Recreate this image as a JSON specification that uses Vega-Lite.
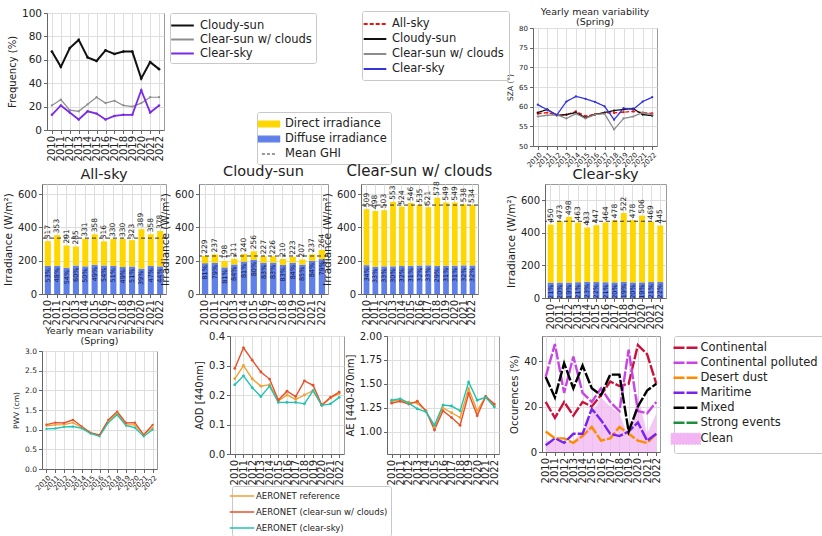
{
"$schema": "https://vega.github.io/schema/vega-lite/v6.json",
"padding": {"left": 2, "top": 6, "right": 0, "bottom": 0},
"background": "white",
"datasets": {
"freq": [
{"year":2010,"type":"Cloudy-sun","value":67},{"year":2011,"type":"Cloudy-sun","value":54},{"year":2012,"type":"Cloudy-sun","value":70},{"year":2013,"type":"Cloudy-sun","value":77},{"year":2014,"type":"Cloudy-sun","value":62},{"year":2015,"type":"Cloudy-sun","value":59},{"year":2016,"type":"Cloudy-sun","value":68},{"year":2017,"type":"Cloudy-sun","value":65},{"year":2018,"type":"Cloudy-sun","value":67},{"year":2019,"type":"Cloudy-sun","value":67},{"year":2020,"type":"Cloudy-sun","value":44},{"year":2021,"type":"Cloudy-sun","value":58},{"year":2022,"type":"Cloudy-sun","value":52},
{"year":2010,"type":"Clear-sun w/ clouds","value":21},{"year":2011,"type":"Clear-sun w/ clouds","value":26},{"year":2012,"type":"Clear-sun w/ clouds","value":17},{"year":2013,"type":"Clear-sun w/ clouds","value":16},{"year":2014,"type":"Clear-sun w/ clouds","value":22},{"year":2015,"type":"Clear-sun w/ clouds","value":28},{"year":2016,"type":"Clear-sun w/ clouds","value":23},{"year":2017,"type":"Clear-sun w/ clouds","value":25},{"year":2018,"type":"Clear-sun w/ clouds","value":21},{"year":2019,"type":"Clear-sun w/ clouds","value":20},{"year":2020,"type":"Clear-sun w/ clouds","value":23},{"year":2021,"type":"Clear-sun w/ clouds","value":28},{"year":2022,"type":"Clear-sun w/ clouds","value":28},
{"year":2010,"type":"Clear-sky","value":13},{"year":2011,"type":"Clear-sky","value":21},{"year":2012,"type":"Clear-sky","value":15},{"year":2013,"type":"Clear-sky","value":9},{"year":2014,"type":"Clear-sky","value":16},{"year":2015,"type":"Clear-sky","value":14},{"year":2016,"type":"Clear-sky","value":9},{"year":2017,"type":"Clear-sky","value":12},{"year":2018,"type":"Clear-sky","value":13},{"year":2019,"type":"Clear-sky","value":13},{"year":2020,"type":"Clear-sky","value":34},{"year":2021,"type":"Clear-sky","value":15},{"year":2022,"type":"Clear-sky","value":21}
],
"sza": [
{"year":2010,"type":"All-sky","value":58.2},{"year":2011,"type":"All-sky","value":58.5},{"year":2012,"type":"All-sky","value":57.8},{"year":2013,"type":"All-sky","value":57.9},{"year":2014,"type":"All-sky","value":58.8},{"year":2015,"type":"All-sky","value":57.6},{"year":2016,"type":"All-sky","value":58.1},{"year":2017,"type":"All-sky","value":58.4},{"year":2018,"type":"All-sky","value":58.4},{"year":2019,"type":"All-sky","value":58.6},{"year":2020,"type":"All-sky","value":58.8},{"year":2021,"type":"All-sky","value":58.5},{"year":2022,"type":"All-sky","value":58.3},
{"year":2010,"type":"Cloudy-sun","value":58.5},{"year":2011,"type":"Cloudy-sun","value":59.3},{"year":2012,"type":"Cloudy-sun","value":57.8},{"year":2013,"type":"Cloudy-sun","value":58.0},{"year":2014,"type":"Cloudy-sun","value":58.5},{"year":2015,"type":"Cloudy-sun","value":57.2},{"year":2016,"type":"Cloudy-sun","value":58.0},{"year":2017,"type":"Cloudy-sun","value":58.5},{"year":2018,"type":"Cloudy-sun","value":59.0},{"year":2019,"type":"Cloudy-sun","value":59.3},{"year":2020,"type":"Cloudy-sun","value":59.5},{"year":2021,"type":"Cloudy-sun","value":58.0},{"year":2022,"type":"Cloudy-sun","value":57.7},
{"year":2010,"type":"Clear-sun w/ clouds","value":57.5},{"year":2011,"type":"Clear-sun w/ clouds","value":57.8},{"year":2012,"type":"Clear-sun w/ clouds","value":57.9},{"year":2013,"type":"Clear-sun w/ clouds","value":57.0},{"year":2014,"type":"Clear-sun w/ clouds","value":58.2},{"year":2015,"type":"Clear-sun w/ clouds","value":57.0},{"year":2016,"type":"Clear-sun w/ clouds","value":58.0},{"year":2017,"type":"Clear-sun w/ clouds","value":58.2},{"year":2018,"type":"Clear-sun w/ clouds","value":54.2},{"year":2019,"type":"Clear-sun w/ clouds","value":57.0},{"year":2020,"type":"Clear-sun w/ clouds","value":57.5},{"year":2021,"type":"Clear-sun w/ clouds","value":58.5},{"year":2022,"type":"Clear-sun w/ clouds","value":58.0},
{"year":2010,"type":"Clear-sky","value":60.5},{"year":2011,"type":"Clear-sky","value":59.2},{"year":2012,"type":"Clear-sky","value":57.9},{"year":2013,"type":"Clear-sky","value":61.3},{"year":2014,"type":"Clear-sky","value":62.6},{"year":2015,"type":"Clear-sky","value":62.0},{"year":2016,"type":"Clear-sky","value":61.2},{"year":2017,"type":"Clear-sky","value":60.1},{"year":2018,"type":"Clear-sky","value":56.7},{"year":2019,"type":"Clear-sky","value":59.6},{"year":2020,"type":"Clear-sky","value":59.3},{"year":2021,"type":"Clear-sky","value":61.3},{"year":2022,"type":"Clear-sky","value":62.4}
],
"irr": [
{"sky":"All-sky","year":2010,"total":317,"diffuse":168,"pct":"53%"},{"sky":"All-sky","year":2011,"total":353,"diffuse":169,"pct":"48%"},{"sky":"All-sky","year":2012,"total":291,"diffuse":157,"pct":"54%"},{"sky":"All-sky","year":2013,"total":285,"diffuse":171,"pct":"60%"},{"sky":"All-sky","year":2014,"total":331,"diffuse":166,"pct":"50%"},{"sky":"All-sky","year":2015,"total":358,"diffuse":175,"pct":"49%"},{"sky":"All-sky","year":2016,"total":316,"diffuse":171,"pct":"54%"},{"sky":"All-sky","year":2017,"total":330,"diffuse":168,"pct":"51%"},{"sky":"All-sky","year":2018,"total":330,"diffuse":162,"pct":"49%"},{"sky":"All-sky","year":2019,"total":323,"diffuse":165,"pct":"51%"},{"sky":"All-sky","year":2020,"total":389,"diffuse":152,"pct":"39%"},{"sky":"All-sky","year":2021,"total":358,"diffuse":168,"pct":"47%"},{"sky":"All-sky","year":2022,"total":378,"diffuse":166,"pct":"44%"},
{"sky":"Cloudy-sun","year":2010,"total":229,"diffuse":185,"pct":"81%"},{"sky":"Cloudy-sun","year":2011,"total":237,"diffuse":187,"pct":"79%"},{"sky":"Cloudy-sun","year":2012,"total":198,"diffuse":160,"pct":"81%"},{"sky":"Cloudy-sun","year":2013,"total":211,"diffuse":177,"pct":"84%"},{"sky":"Cloudy-sun","year":2014,"total":240,"diffuse":194,"pct":"81%"},{"sky":"Cloudy-sun","year":2015,"total":256,"diffuse":205,"pct":"80%"},{"sky":"Cloudy-sun","year":2016,"total":227,"diffuse":188,"pct":"83%"},{"sky":"Cloudy-sun","year":2017,"total":226,"diffuse":188,"pct":"83%"},{"sky":"Cloudy-sun","year":2018,"total":210,"diffuse":174,"pct":"83%"},{"sky":"Cloudy-sun","year":2019,"total":223,"diffuse":187,"pct":"84%"},{"sky":"Cloudy-sun","year":2020,"total":207,"diffuse":176,"pct":"85%"},{"sky":"Cloudy-sun","year":2021,"total":237,"diffuse":199,"pct":"84%"},{"sky":"Cloudy-sun","year":2022,"total":264,"diffuse":209,"pct":"79%"},
{"sky":"Clear-sun w/ clouds","year":2010,"total":509,"diffuse":173,"pct":"34%"},{"sky":"Clear-sun w/ clouds","year":2011,"total":498,"diffuse":164,"pct":"33%"},{"sky":"Clear-sun w/ clouds","year":2012,"total":503,"diffuse":166,"pct":"33%"},{"sky":"Clear-sun w/ clouds","year":2013,"total":553,"diffuse":166,"pct":"30%"},{"sky":"Clear-sun w/ clouds","year":2014,"total":524,"diffuse":168,"pct":"32%"},{"sky":"Clear-sun w/ clouds","year":2015,"total":546,"diffuse":169,"pct":"31%"},{"sky":"Clear-sun w/ clouds","year":2016,"total":535,"diffuse":171,"pct":"32%"},{"sky":"Clear-sun w/ clouds","year":2017,"total":521,"diffuse":172,"pct":"33%"},{"sky":"Clear-sun w/ clouds","year":2018,"total":578,"diffuse":168,"pct":"29%"},{"sky":"Clear-sun w/ clouds","year":2019,"total":549,"diffuse":170,"pct":"31%"},{"sky":"Clear-sun w/ clouds","year":2020,"total":549,"diffuse":170,"pct":"31%"},{"sky":"Clear-sun w/ clouds","year":2021,"total":538,"diffuse":172,"pct":"32%"},{"sky":"Clear-sun w/ clouds","year":2022,"total":534,"diffuse":171,"pct":"32%"},
{"sky":"Clear-sky","year":2010,"total":450,"diffuse":95,"pct":"21%"},{"sky":"Clear-sky","year":2011,"total":473,"diffuse":95,"pct":"20%"},{"sky":"Clear-sky","year":2012,"total":498,"diffuse":95,"pct":"19%"},{"sky":"Clear-sky","year":2013,"total":463,"diffuse":97,"pct":"21%"},{"sky":"Clear-sky","year":2014,"total":433,"diffuse":100,"pct":"23%"},{"sky":"Clear-sky","year":2015,"total":447,"diffuse":98,"pct":"22%"},{"sky":"Clear-sky","year":2016,"total":464,"diffuse":97,"pct":"21%"},{"sky":"Clear-sky","year":2017,"total":478,"diffuse":96,"pct":"20%"},{"sky":"Clear-sky","year":2018,"total":522,"diffuse":99,"pct":"19%"},{"sky":"Clear-sky","year":2019,"total":478,"diffuse":96,"pct":"20%"},{"sky":"Clear-sky","year":2020,"total":506,"diffuse":96,"pct":"19%"},{"sky":"Clear-sky","year":2021,"total":469,"diffuse":98,"pct":"21%"},{"sky":"Clear-sky","year":2022,"total":445,"diffuse":98,"pct":"22%"}
],
"aer": [
{"var":"PWV","src":"AERONET reference","year":2010,"value":1.10},{"var":"PWV","src":"AERONET reference","year":2011,"value":1.12},{"var":"PWV","src":"AERONET reference","year":2012,"value":1.13},{"var":"PWV","src":"AERONET reference","year":2013,"value":1.18},{"var":"PWV","src":"AERONET reference","year":2014,"value":1.05},{"var":"PWV","src":"AERONET reference","year":2015,"value":0.92},{"var":"PWV","src":"AERONET reference","year":2016,"value":0.85},{"var":"PWV","src":"AERONET reference","year":2017,"value":1.22},{"var":"PWV","src":"AERONET reference","year":2018,"value":1.42},{"var":"PWV","src":"AERONET reference","year":2019,"value":1.12},{"var":"PWV","src":"AERONET reference","year":2020,"value":1.12},{"var":"PWV","src":"AERONET reference","year":2021,"value":0.88},{"var":"PWV","src":"AERONET reference","year":2022,"value":1.05},
{"var":"PWV","src":"AERONET (clear-sun w/ clouds)","year":2010,"value":1.13},{"var":"PWV","src":"AERONET (clear-sun w/ clouds)","year":2011,"value":1.18},{"var":"PWV","src":"AERONET (clear-sun w/ clouds)","year":2012,"value":1.17},{"var":"PWV","src":"AERONET (clear-sun w/ clouds)","year":2013,"value":1.25},{"var":"PWV","src":"AERONET (clear-sun w/ clouds)","year":2014,"value":1.08},{"var":"PWV","src":"AERONET (clear-sun w/ clouds)","year":2015,"value":0.92},{"var":"PWV","src":"AERONET (clear-sun w/ clouds)","year":2016,"value":0.87},{"var":"PWV","src":"AERONET (clear-sun w/ clouds)","year":2017,"value":1.25},{"var":"PWV","src":"AERONET (clear-sun w/ clouds)","year":2018,"value":1.46},{"var":"PWV","src":"AERONET (clear-sun w/ clouds)","year":2019,"value":1.17},{"var":"PWV","src":"AERONET (clear-sun w/ clouds)","year":2020,"value":1.18},{"var":"PWV","src":"AERONET (clear-sun w/ clouds)","year":2021,"value":0.87},{"var":"PWV","src":"AERONET (clear-sun w/ clouds)","year":2022,"value":1.12},
{"var":"PWV","src":"AERONET (clear-sky)","year":2010,"value":1.02},{"var":"PWV","src":"AERONET (clear-sky)","year":2011,"value":1.03},{"var":"PWV","src":"AERONET (clear-sky)","year":2012,"value":1.07},{"var":"PWV","src":"AERONET (clear-sky)","year":2013,"value":1.08},{"var":"PWV","src":"AERONET (clear-sky)","year":2014,"value":1.03},{"var":"PWV","src":"AERONET (clear-sky)","year":2015,"value":0.90},{"var":"PWV","src":"AERONET (clear-sky)","year":2016,"value":0.83},{"var":"PWV","src":"AERONET (clear-sky)","year":2017,"value":1.18},{"var":"PWV","src":"AERONET (clear-sky)","year":2018,"value":1.38},{"var":"PWV","src":"AERONET (clear-sky)","year":2019,"value":1.10},{"var":"PWV","src":"AERONET (clear-sky)","year":2020,"value":1.05},{"var":"PWV","src":"AERONET (clear-sky)","year":2021,"value":0.83},{"var":"PWV","src":"AERONET (clear-sky)","year":2022,"value":1.00},
{"var":"AOD","src":"AERONET reference","year":2010,"value":0.255},{"var":"AOD","src":"AERONET reference","year":2011,"value":0.300},{"var":"AOD","src":"AERONET reference","year":2012,"value":0.255},{"var":"AOD","src":"AERONET reference","year":2013,"value":0.230},{"var":"AOD","src":"AERONET reference","year":2014,"value":0.235},{"var":"AOD","src":"AERONET reference","year":2015,"value":0.180},{"var":"AOD","src":"AERONET reference","year":2016,"value":0.200},{"var":"AOD","src":"AERONET reference","year":2017,"value":0.185},{"var":"AOD","src":"AERONET reference","year":2018,"value":0.200},{"var":"AOD","src":"AERONET reference","year":2019,"value":0.215},{"var":"AOD","src":"AERONET reference","year":2020,"value":0.165},{"var":"AOD","src":"AERONET reference","year":2021,"value":0.190},{"var":"AOD","src":"AERONET reference","year":2022,"value":0.205},
{"var":"AOD","src":"AERONET (clear-sun w/ clouds)","year":2010,"value":0.290},{"var":"AOD","src":"AERONET (clear-sun w/ clouds)","year":2011,"value":0.360},{"var":"AOD","src":"AERONET (clear-sun w/ clouds)","year":2012,"value":0.318},{"var":"AOD","src":"AERONET (clear-sun w/ clouds)","year":2013,"value":0.278},{"var":"AOD","src":"AERONET (clear-sun w/ clouds)","year":2014,"value":0.254},{"var":"AOD","src":"AERONET (clear-sun w/ clouds)","year":2015,"value":0.183},{"var":"AOD","src":"AERONET (clear-sun w/ clouds)","year":2016,"value":0.213},{"var":"AOD","src":"AERONET (clear-sun w/ clouds)","year":2017,"value":0.195},{"var":"AOD","src":"AERONET (clear-sun w/ clouds)","year":2018,"value":0.248},{"var":"AOD","src":"AERONET (clear-sun w/ clouds)","year":2019,"value":0.233},{"var":"AOD","src":"AERONET (clear-sun w/ clouds)","year":2020,"value":0.166},{"var":"AOD","src":"AERONET (clear-sun w/ clouds)","year":2021,"value":0.192},{"var":"AOD","src":"AERONET (clear-sun w/ clouds)","year":2022,"value":0.210},
{"var":"AOD","src":"AERONET (clear-sky)","year":2010,"value":0.235},{"var":"AOD","src":"AERONET (clear-sky)","year":2011,"value":0.265},{"var":"AOD","src":"AERONET (clear-sky)","year":2012,"value":0.225},{"var":"AOD","src":"AERONET (clear-sky)","year":2013,"value":0.195},{"var":"AOD","src":"AERONET (clear-sky)","year":2014,"value":0.230},{"var":"AOD","src":"AERONET (clear-sky)","year":2015,"value":0.175},{"var":"AOD","src":"AERONET (clear-sky)","year":2016,"value":0.175},{"var":"AOD","src":"AERONET (clear-sky)","year":2017,"value":0.175},{"var":"AOD","src":"AERONET (clear-sky)","year":2018,"value":0.170},{"var":"AOD","src":"AERONET (clear-sky)","year":2019,"value":0.215},{"var":"AOD","src":"AERONET (clear-sky)","year":2020,"value":0.165},{"var":"AOD","src":"AERONET (clear-sky)","year":2021,"value":0.170},{"var":"AOD","src":"AERONET (clear-sky)","year":2022,"value":0.192},
{"var":"AE","src":"AERONET reference","year":2010,"value":1.32},{"var":"AE","src":"AERONET reference","year":2011,"value":1.33},{"var":"AE","src":"AERONET reference","year":2012,"value":1.31},{"var":"AE","src":"AERONET reference","year":2013,"value":1.30},{"var":"AE","src":"AERONET reference","year":2014,"value":1.22},{"var":"AE","src":"AERONET reference","year":2015,"value":1.05},{"var":"AE","src":"AERONET reference","year":2016,"value":1.25},{"var":"AE","src":"AERONET reference","year":2017,"value":1.20},{"var":"AE","src":"AERONET reference","year":2018,"value":1.15},{"var":"AE","src":"AERONET reference","year":2019,"value":1.45},{"var":"AE","src":"AERONET reference","year":2020,"value":1.22},{"var":"AE","src":"AERONET reference","year":2021,"value":1.37},{"var":"AE","src":"AERONET reference","year":2022,"value":1.27},
{"var":"AE","src":"AERONET (clear-sun w/ clouds)","year":2010,"value":1.30},{"var":"AE","src":"AERONET (clear-sun w/ clouds)","year":2011,"value":1.32},{"var":"AE","src":"AERONET (clear-sun w/ clouds)","year":2012,"value":1.29},{"var":"AE","src":"AERONET (clear-sun w/ clouds)","year":2013,"value":1.32},{"var":"AE","src":"AERONET (clear-sun w/ clouds)","year":2014,"value":1.22},{"var":"AE","src":"AERONET (clear-sun w/ clouds)","year":2015,"value":1.02},{"var":"AE","src":"AERONET (clear-sun w/ clouds)","year":2016,"value":1.22},{"var":"AE","src":"AERONET (clear-sun w/ clouds)","year":2017,"value":1.15},{"var":"AE","src":"AERONET (clear-sun w/ clouds)","year":2018,"value":1.07},{"var":"AE","src":"AERONET (clear-sun w/ clouds)","year":2019,"value":1.40},{"var":"AE","src":"AERONET (clear-sun w/ clouds)","year":2020,"value":1.17},{"var":"AE","src":"AERONET (clear-sun w/ clouds)","year":2021,"value":1.37},{"var":"AE","src":"AERONET (clear-sun w/ clouds)","year":2022,"value":1.29},
{"var":"AE","src":"AERONET (clear-sky)","year":2010,"value":1.33},{"var":"AE","src":"AERONET (clear-sky)","year":2011,"value":1.345},{"var":"AE","src":"AERONET (clear-sky)","year":2012,"value":1.30},{"var":"AE","src":"AERONET (clear-sky)","year":2013,"value":1.24},{"var":"AE","src":"AERONET (clear-sky)","year":2014,"value":1.21},{"var":"AE","src":"AERONET (clear-sky)","year":2015,"value":1.07},{"var":"AE","src":"AERONET (clear-sky)","year":2016,"value":1.28},{"var":"AE","src":"AERONET (clear-sky)","year":2017,"value":1.27},{"var":"AE","src":"AERONET (clear-sky)","year":2018,"value":1.22},{"var":"AE","src":"AERONET (clear-sky)","year":2019,"value":1.52},{"var":"AE","src":"AERONET (clear-sky)","year":2020,"value":1.33},{"var":"AE","src":"AERONET (clear-sky)","year":2021,"value":1.36},{"var":"AE","src":"AERONET (clear-sky)","year":2022,"value":1.26}
],
"occ": [
{"year":2010,"type":"Continental","value":22},{"year":2011,"type":"Continental","value":15},{"year":2012,"type":"Continental","value":22},{"year":2013,"type":"Continental","value":16},{"year":2014,"type":"Continental","value":22},{"year":2015,"type":"Continental","value":20},{"year":2016,"type":"Continental","value":25},{"year":2017,"type":"Continental","value":31},{"year":2018,"type":"Continental","value":29},{"year":2019,"type":"Continental","value":30},{"year":2020,"type":"Continental","value":47},{"year":2021,"type":"Continental","value":43},{"year":2022,"type":"Continental","value":30},
{"year":2010,"type":"Continental polluted","value":33},{"year":2011,"type":"Continental polluted","value":47.5},{"year":2012,"type":"Continental polluted","value":26},{"year":2013,"type":"Continental polluted","value":42},{"year":2014,"type":"Continental polluted","value":26},{"year":2015,"type":"Continental polluted","value":22},{"year":2016,"type":"Continental polluted","value":28},{"year":2017,"type":"Continental polluted","value":22},{"year":2018,"type":"Continental polluted","value":18},{"year":2019,"type":"Continental polluted","value":45},{"year":2020,"type":"Continental polluted","value":18},{"year":2021,"type":"Continental polluted","value":17},{"year":2022,"type":"Continental polluted","value":22},
{"year":2010,"type":"Desert dust","value":9},{"year":2011,"type":"Desert dust","value":6},{"year":2012,"type":"Desert dust","value":6},{"year":2013,"type":"Desert dust","value":4},{"year":2014,"type":"Desert dust","value":7},{"year":2015,"type":"Desert dust","value":11},{"year":2016,"type":"Desert dust","value":5},{"year":2017,"type":"Desert dust","value":6},{"year":2018,"type":"Desert dust","value":11},{"year":2019,"type":"Desert dust","value":8},{"year":2020,"type":"Desert dust","value":5},{"year":2021,"type":"Desert dust","value":4},{"year":2022,"type":"Desert dust","value":8},
{"year":2010,"type":"Maritime","value":3},{"year":2011,"type":"Maritime","value":6},{"year":2012,"type":"Maritime","value":4},{"year":2013,"type":"Maritime","value":8},{"year":2014,"type":"Maritime","value":8},{"year":2015,"type":"Maritime","value":19},{"year":2016,"type":"Maritime","value":14},{"year":2017,"type":"Maritime","value":8},{"year":2018,"type":"Maritime","value":7},{"year":2019,"type":"Maritime","value":9},{"year":2020,"type":"Maritime","value":13},{"year":2021,"type":"Maritime","value":5},{"year":2022,"type":"Maritime","value":8},
{"year":2010,"type":"Mixed","value":33},{"year":2011,"type":"Mixed","value":24},{"year":2012,"type":"Mixed","value":39},{"year":2013,"type":"Mixed","value":28},{"year":2014,"type":"Mixed","value":38},{"year":2015,"type":"Mixed","value":28},{"year":2016,"type":"Mixed","value":25},{"year":2017,"type":"Mixed","value":34},{"year":2018,"type":"Mixed","value":34},{"year":2019,"type":"Mixed","value":9},{"year":2020,"type":"Mixed","value":20},{"year":2021,"type":"Mixed","value":27},{"year":2022,"type":"Mixed","value":30},
{"year":2010,"type":"Clean","value":5},{"year":2011,"type":"Clean","value":5},{"year":2012,"type":"Clean","value":4},{"year":2013,"type":"Clean","value":5},{"year":2014,"type":"Clean","value":9},{"year":2015,"type":"Clean","value":17},{"year":2016,"type":"Clean","value":24},{"year":2017,"type":"Clean","value":20},{"year":2018,"type":"Clean","value":17},{"year":2019,"type":"Clean","value":6},{"year":2020,"type":"Clean","value":25},{"year":2021,"type":"Clean","value":8},{"year":2022,"type":"Clean","value":17}
]
},
"vconcat": [
{
"hconcat": [
{"width": 1, "height": 1, "data": {"values": []}, "mark": "point", "view": {"stroke": null}},
{
"width": 117, "height": 117,
"data": {"name": "freq"},
"encoding": {
"x": {"field": "year", "type": "ordinal", "scale": {"type": "point", "padding": 0.55}, "axis": {"title": null, "labelAngle": 270, "labelFontSize": 10, "labelOverlap": false, "grid": true}},
"y": {"field": "value", "type": "quantitative", "scale": {"domain": [0, 100], "nice": false}, "axis": {"title": "Frequency (%)", "values": [0, 20, 40, 60, 80, 100], "labelFontSize": 10.5, "titleFontSize": 10}},
"color": {"field": "type", "type": "nominal", "scale": {"domain": ["Cloudy-sun", "Clear-sun w/ clouds", "Clear-sky"], "range": ["#111111", "#8c8c8c", "#7a2be6"]}, "legend": {"title": null, "orient": "right", "offset": 6, "strokeColor": "#c8c8c8", "padding": 4, "labelFontSize": 11.5, "symbolType": "M-1.6,0H1.6", "symbolStrokeWidth": 2, "symbolSize": 200, "rowPadding": 0, "labelOffset": 9, "cornerRadius": 2}}
},
"layer": [
{"transform": [{"filter": "datum.type === 'Cloudy-sun'"}], "mark": {"type": "line", "strokeWidth": 2, "point": {"filled": true, "size": 7}}},
{"transform": [{"filter": "datum.type === 'Clear-sun w/ clouds'"}], "mark": {"type": "line", "strokeWidth": 1.2, "point": {"filled": true, "size": 5}}},
{"transform": [{"filter": "datum.type === 'Clear-sky'"}], "mark": {"type": "line", "strokeWidth": 1.8, "point": {"filled": true, "size": 6}}}
]
},
{"width": 361, "height": 1, "data": {"values": []}, "mark": "point", "view": {"stroke": null}},
{
"vconcat": [
{"width": 124, "height": 15, "data": {"values": []}, "mark": "point", "view": {"stroke": null}},
{
"width": 124, "height": 118,
"title": {"text": ["Yearly mean variability", "(Spring)"], "fontSize": 9.5, "offset": 2, "lineHeight": 10, "dy": 18},
"data": {"name": "sza"},
"mark": {"type": "line", "strokeWidth": 1.3, "point": {"filled": true, "size": 5}},
"encoding": {
"x": {"field": "year", "type": "ordinal", "scale": {"type": "point", "padding": 0.5}, "axis": {"title": null, "labelAngle": -45, "labelFontSize": 7, "labelOverlap": false, "grid": true, "labelPadding": 1}},
"y": {"field": "value", "type": "quantitative", "scale": {"domain": [50, 80], "nice": false, "zero": false}, "axis": {"title": "SZA (°)", "values": [50, 55, 60, 65, 70, 75, 80], "labelFontSize": 7, "titleFontSize": 7.5}},
"color": {"field": "type", "type": "nominal", "scale": {"domain": ["All-sky", "Cloudy-sun", "Clear-sun w/ clouds", "Clear-sky"], "range": ["#ee1111", "#111111", "#8c8c8c", "#3535dd"]}, "legend": {"title": null, "orient": "none", "legendX": -171, "legendY": -17, "strokeColor": "#c8c8c8", "padding": 5, "labelFontSize": 11.5, "symbolType": "M-1.6,0H1.6", "symbolStrokeWidth": 1.8, "symbolSize": 200, "rowPadding": 1, "labelOffset": 9, "cornerRadius": 2}},
"strokeDash": {"field": "type", "type": "nominal", "scale": {"domain": ["All-sky", "Cloudy-sun", "Clear-sun w/ clouds", "Clear-sky"], "range": [[4, 2], [1, 0], [1, 0], [1, 0]]}, "legend": {"title": null, "orient": "none", "legendX": -171, "legendY": -17, "strokeColor": "#c8c8c8", "padding": 5, "labelFontSize": 11.5, "symbolType": "M-1.6,0H1.6", "symbolStrokeWidth": 1.8, "symbolSize": 200, "rowPadding": 1, "labelOffset": 9, "cornerRadius": 2}}
}
}
],
"spacing": 0, "bounds": "flush",
"resolve": {"scale": {"color": "independent", "strokeDash": "independent"}}
}
],
"spacing": 4, "bounds": "flush",
"resolve": {"scale": {"color": "independent", "strokeDash": "independent"}}
},
{"width": 1, "height": 171, "data": {"values": []}, "mark": "point", "view": {"stroke": null}},
{
"hconcat": [
{
"width": 124, "height": 110,
"title": {"text": "All-sky", "fontSize": 14.5, "offset": 2},
"data": {"name": "irr"},
"transform": [{"filter": "datum.sky === 'All-sky'"}],
"layer": [
{"mark": {"type": "bar"}, "encoding": {"x": {"field": "year", "type": "ordinal", "scale": {"paddingInner": 0.35, "paddingOuter": 0.3}, "axis": {"title": null, "labelAngle": 270, "labelFontSize": 10, "labelOverlap": false, "grid": true, "bandPosition": 0.5}}, "y": {"field": "diffuse", "type": "quantitative", "scale": {"domain": [0, 660], "nice": false}, "axis": {"title": "Irradiance (W/m²)", "values": [0, 200, 400, 600], "labelFontSize": 10, "titleFontSize": 10.5}}, "color": {"datum": "Diffuse irradiance", "scale": {"domain": ["Direct irradiance", "Diffuse irradiance", "Mean GHI"], "range": ["#ffd700", "#5f80e8", "#333333"]}, "legend": null}}},
{"mark": {"type": "bar"}, "encoding": {"x": {"field": "year", "type": "ordinal"}, "y": {"field": "diffuse", "type": "quantitative", "axis": {"title": "Irradiance (W/m²)", "values": [0, 200, 400, 600], "labelFontSize": 10, "titleFontSize": 10.5}}, "y2": {"field": "total"}, "color": {"datum": "Direct irradiance", "legend": null}}},
{"mark": {"type": "text", "angle": 270, "align": "left", "baseline": "middle", "dx": 2, "fontSize": 7.5, "color": "#222222"}, "encoding": {"x": {"field": "year", "type": "ordinal"}, "y": {"field": "total", "type": "quantitative", "axis": {"title": "Irradiance (W/m²)", "values": [0, 200, 400, 600], "labelFontSize": 10, "titleFontSize": 10.5}}, "text": {"field": "total"}}},
{"mark": {"type": "text", "angle": 270, "align": "right", "baseline": "middle", "dx": -2, "fontSize": 6.5, "color": "#15154a"}, "encoding": {"x": {"field": "year", "type": "ordinal"}, "y": {"field": "diffuse", "type": "quantitative", "axis": {"title": "Irradiance (W/m²)", "values": [0, 200, 400, 600], "labelFontSize": 10, "titleFontSize": 10.5}}, "text": {"field": "pct"}}},
{"mark": {"type": "rule", "strokeDash": [4, 3], "strokeWidth": 1}, "encoding": {"y": {"aggregate": "mean", "field": "total", "type": "quantitative", "axis": {"title": "Irradiance (W/m²)", "values": [0, 200, 400, 600], "labelFontSize": 10, "titleFontSize": 10.5}}, "color": {"datum": "Mean GHI", "legend": null}}}
]
},
{
"width": 129, "height": 110,
"title": {"text": "Cloudy-sun", "fontSize": 14.5, "offset": 2, "dy": 70},
"data": {"name": "irr"},
"transform": [{"filter": "datum.sky === 'Cloudy-sun'"}],
"layer": [
{"mark": {"type": "bar"}, "encoding": {"x": {"field": "year", "type": "ordinal", "scale": {"paddingInner": 0.35, "paddingOuter": 0.3}, "axis": {"title": null, "labelAngle": 270, "labelFontSize": 10, "labelOverlap": false, "grid": true, "bandPosition": 0.5}}, "y": {"field": "diffuse", "type": "quantitative", "scale": {"domain": [0, 660], "nice": false}, "axis": {"title": "Irradiance (W/m²)", "values": [0, 200, 400, 600], "labelFontSize": 10, "titleFontSize": 10.5}}, "color": {"datum": "Diffuse irradiance", "scale": {"domain": ["Direct irradiance", "Diffuse irradiance", "Mean GHI"], "range": ["#ffd700", "#5f80e8", "#333333"]}, "legend": {"title": null, "orient": "none", "legendX": 58, "legendY": -72, "strokeColor": "#c8c8c8", "padding": 4, "labelFontSize": 11.5, "symbolSize": 200, "rowPadding": 1, "labelOffset": 8, "cornerRadius": 2, "encode": {"symbols": {"update": {"shape": {"signal": "datum.value === 'Mean GHI' ? 'stroke' : 'M-1.5,-0.4H1.5V0.4H-1.5Z'"}, "stroke": {"signal": "datum.value === 'Mean GHI' ? '#444444' : 'transparent'"}, "strokeDash": {"signal": "datum.value === 'Mean GHI' ? [3, 2] : [1, 0]"}, "strokeWidth": {"value": 1.2}}}}}}}},
{"mark": {"type": "bar"}, "encoding": {"x": {"field": "year", "type": "ordinal"}, "y": {"field": "diffuse", "type": "quantitative", "axis": {"title": "Irradiance (W/m²)", "values": [0, 200, 400, 600], "labelFontSize": 10, "titleFontSize": 10.5}}, "y2": {"field": "total"}, "color": {"datum": "Direct irradiance", "legend": null}}},
{"mark": {"type": "text", "angle": 270, "align": "left", "baseline": "middle", "dx": 2, "fontSize": 7.5, "color": "#222222"}, "encoding": {"x": {"field": "year", "type": "ordinal"}, "y": {"field": "total", "type": "quantitative", "axis": {"title": "Irradiance (W/m²)", "values": [0, 200, 400, 600], "labelFontSize": 10, "titleFontSize": 10.5}}, "text": {"field": "total"}}},
{"mark": {"type": "text", "angle": 270, "align": "right", "baseline": "middle", "dx": -2, "fontSize": 6.5, "color": "#15154a"}, "encoding": {"x": {"field": "year", "type": "ordinal"}, "y": {"field": "diffuse", "type": "quantitative", "axis": {"title": "Irradiance (W/m²)", "values": [0, 200, 400, 600], "labelFontSize": 10, "titleFontSize": 10.5}}, "text": {"field": "pct"}}},
{"mark": {"type": "rule", "strokeDash": [4, 3], "strokeWidth": 1}, "encoding": {"y": {"aggregate": "mean", "field": "total", "type": "quantitative", "axis": {"title": "Irradiance (W/m²)", "values": [0, 200, 400, 600], "labelFontSize": 10, "titleFontSize": 10.5}}, "color": {"datum": "Mean GHI", "legend": null}}}
]
},
{
"width": 117, "height": 110,
"title": {"text": "Clear-sun w/ clouds", "fontSize": 15, "offset": 2},
"data": {"name": "irr"},
"transform": [{"filter": "datum.sky === 'Clear-sun w/ clouds'"}],
"layer": [
{"mark": {"type": "bar"}, "encoding": {"x": {"field": "year", "type": "ordinal", "scale": {"paddingInner": 0.35, "paddingOuter": 0.3}, "axis": {"title": null, "labelAngle": 270, "labelFontSize": 10, "labelOverlap": false, "grid": true, "bandPosition": 0.5}}, "y": {"field": "diffuse", "type": "quantitative", "scale": {"domain": [0, 660], "nice": false}, "axis": {"title": "Irradiance (W/m²)", "values": [0, 200, 400, 600], "labelFontSize": 10, "titleFontSize": 10.5}}, "color": {"datum": "Diffuse irradiance", "scale": {"domain": ["Direct irradiance", "Diffuse irradiance", "Mean GHI"], "range": ["#ffd700", "#5f80e8", "#333333"]}, "legend": null}}},
{"mark": {"type": "bar"}, "encoding": {"x": {"field": "year", "type": "ordinal"}, "y": {"field": "diffuse", "type": "quantitative", "axis": {"title": "Irradiance (W/m²)", "values": [0, 200, 400, 600], "labelFontSize": 10, "titleFontSize": 10.5}}, "y2": {"field": "total"}, "color": {"datum": "Direct irradiance", "legend": null}}},
{"mark": {"type": "text", "angle": 270, "align": "left", "baseline": "middle", "dx": 2, "fontSize": 7.5, "color": "#222222"}, "encoding": {"x": {"field": "year", "type": "ordinal"}, "y": {"field": "total", "type": "quantitative", "axis": {"title": "Irradiance (W/m²)", "values": [0, 200, 400, 600], "labelFontSize": 10, "titleFontSize": 10.5}}, "text": {"field": "total"}}},
{"mark": {"type": "text", "angle": 270, "align": "right", "baseline": "middle", "dx": -2, "fontSize": 6.5, "color": "#15154a"}, "encoding": {"x": {"field": "year", "type": "ordinal"}, "y": {"field": "diffuse", "type": "quantitative", "axis": {"title": "Irradiance (W/m²)", "values": [0, 200, 400, 600], "labelFontSize": 10, "titleFontSize": 10.5}}, "text": {"field": "pct"}}},
{"mark": {"type": "rule", "strokeDash": [4, 3], "strokeWidth": 1}, "encoding": {"y": {"aggregate": "mean", "field": "total", "type": "quantitative", "axis": {"title": "Irradiance (W/m²)", "values": [0, 200, 400, 600], "labelFontSize": 10, "titleFontSize": 10.5}}, "color": {"datum": "Mean GHI", "legend": null}}}
]
},
{"width": 1, "height": 1, "data": {"values": []}, "mark": "point", "view": {"stroke": null}},
{
"width": 121, "height": 114,
"title": {"text": "Clear-sky", "fontSize": 14.5, "offset": 2},
"data": {"name": "irr"},
"transform": [{"filter": "datum.sky === 'Clear-sky'"}],
"layer": [
{"mark": {"type": "bar"}, "encoding": {"x": {"field": "year", "type": "ordinal", "scale": {"paddingInner": 0.35, "paddingOuter": 0.3}, "axis": {"title": null, "labelAngle": 270, "labelFontSize": 10, "labelOverlap": false, "grid": true, "bandPosition": 0.5}}, "y": {"field": "diffuse", "type": "quantitative", "scale": {"domain": [0, 700], "nice": false}, "axis": {"title": "Irradiance (W/m²)", "values": [0, 200, 400, 600], "labelFontSize": 10, "titleFontSize": 10.5}}, "color": {"datum": "Diffuse irradiance", "scale": {"domain": ["Direct irradiance", "Diffuse irradiance", "Mean GHI"], "range": ["#ffd700", "#5f80e8", "#333333"]}, "legend": null}}},
{"mark": {"type": "bar"}, "encoding": {"x": {"field": "year", "type": "ordinal"}, "y": {"field": "diffuse", "type": "quantitative", "axis": {"title": "Irradiance (W/m²)", "values": [0, 200, 400, 600], "labelFontSize": 10, "titleFontSize": 10.5}}, "y2": {"field": "total"}, "color": {"datum": "Direct irradiance", "legend": null}}},
{"mark": {"type": "text", "angle": 270, "align": "left", "baseline": "middle", "dx": 2, "fontSize": 7.5, "color": "#222222"}, "encoding": {"x": {"field": "year", "type": "ordinal"}, "y": {"field": "total", "type": "quantitative", "axis": {"title": "Irradiance (W/m²)", "values": [0, 200, 400, 600], "labelFontSize": 10, "titleFontSize": 10.5}}, "text": {"field": "total"}}},
{"mark": {"type": "text", "angle": 270, "align": "right", "baseline": "middle", "dx": -2, "fontSize": 6.5, "color": "#15154a"}, "encoding": {"x": {"field": "year", "type": "ordinal"}, "y": {"field": "diffuse", "type": "quantitative", "axis": {"title": "Irradiance (W/m²)", "values": [0, 200, 400, 600], "labelFontSize": 10, "titleFontSize": 10.5}}, "text": {"field": "pct"}}},
{"mark": {"type": "rule", "strokeDash": [4, 3], "strokeWidth": 1}, "encoding": {"y": {"aggregate": "mean", "field": "total", "type": "quantitative", "axis": {"title": "Irradiance (W/m²)", "values": [0, 200, 400, 600], "labelFontSize": 10, "titleFontSize": 10.5}}, "color": {"datum": "Mean GHI", "legend": null}}}
]
}
],
"spacing": 33, "bounds": "flush",
"resolve": {"scale": {"color": "independent", "strokeDash": "independent"}}
},
{"width": 1, "height": 152, "data": {"values": []}, "mark": "point", "view": {"stroke": null}},
{
"hconcat": [
{
"vconcat": [
{"width": 115, "height": 15, "data": {"values": []}, "mark": "point", "view": {"stroke": null}},
{
"width": 115, "height": 118,
"title": {"text": ["Yearly mean variability", "(Spring)"], "fontSize": 9.5, "offset": 2, "lineHeight": 10},
"data": {"name": "aer"},
"transform": [{"filter": "datum.var === 'PWV'"}],
"mark": {"type": "line", "strokeWidth": 1.3, "point": {"filled": true, "size": 5}},
"encoding": {
"x": {"field": "year", "type": "ordinal", "scale": {"type": "point", "padding": 0.5}, "axis": {"title": null, "labelAngle": -45, "labelFontSize": 7, "labelOverlap": false, "grid": true, "labelPadding": 1}},
"y": {"field": "value", "type": "quantitative", "scale": {"domain": [0, 3], "nice": false}, "axis": {"title": "PWV (cm)", "values": [0, 0.5, 1, 1.5, 2, 2.5, 3], "format": ".1f", "labelFontSize": 7.5, "titleFontSize": 7.5}},
"color": {"field": "src", "type": "nominal", "scale": {"domain": ["AERONET reference", "AERONET (clear-sun w/ clouds)", "AERONET (clear-sky)"], "range": ["#f0a030", "#e8502a", "#1fc3b0"]}, "legend": null}
}
}
],
"spacing": 0, "bounds": "flush",
"resolve": {"scale": {"color": "independent"}}
},
{"width": 102, "height": 1, "data": {"values": []}, "mark": "point", "view": {"stroke": null}},
{
"width": 114, "height": 118,
"data": {"name": "aer"},
"transform": [{"filter": "datum.var === 'AOD'"}],
"mark": {"type": "line", "strokeWidth": 1.4, "point": {"filled": true, "size": 8}},
"encoding": {
"x": {"field": "year", "type": "ordinal", "scale": {"type": "point", "padding": 0.55}, "axis": {"title": null, "labelAngle": 270, "labelFontSize": 10, "labelOverlap": false, "grid": true}},
"y": {"field": "value", "type": "quantitative", "scale": {"domain": [0, 0.4], "nice": false}, "axis": {"title": "AOD [440nm]", "values": [0, 0.1, 0.2, 0.3, 0.4], "format": ".1f", "labelFontSize": 10, "titleFontSize": 10}},
"color": {"field": "src", "type": "nominal", "scale": {"domain": ["AERONET reference", "AERONET (clear-sun w/ clouds)", "AERONET (clear-sky)"], "range": ["#f0a030", "#e8502a", "#1fc3b0"]}, "legend": {"title": null, "orient": "none", "legendX": 2, "legendY": 150, "strokeColor": "#c8c8c8", "padding": 3, "labelFontSize": 8.5, "symbolType": "M-2,0H2", "symbolStrokeWidth": 1.5, "symbolSize": 150, "rowPadding": 4, "labelOffset": 7, "cornerRadius": 2}}
}
},
{
"width": 112, "height": 118,
"data": {"name": "aer"},
"transform": [{"filter": "datum.var === 'AE'"}],
"mark": {"type": "line", "strokeWidth": 1.4, "point": {"filled": true, "size": 8}},
"encoding": {
"x": {"field": "year", "type": "ordinal", "scale": {"type": "point", "padding": 0.55}, "axis": {"title": null, "labelAngle": 270, "labelFontSize": 10, "labelOverlap": false, "grid": true}},
"y": {"field": "value", "type": "quantitative", "scale": {"domain": [0.77, 2.0], "nice": false, "zero": false}, "axis": {"title": "AE [440-870nm]", "values": [1, 1.25, 1.5, 1.75, 2], "format": ".2f", "labelFontSize": 10, "titleFontSize": 10}},
"color": {"field": "src", "type": "nominal", "scale": {"domain": ["AERONET reference", "AERONET (clear-sun w/ clouds)", "AERONET (clear-sky)"], "range": ["#f0a030", "#e8502a", "#1fc3b0"]}, "legend": null}
}
},
{
"width": 118, "height": 116,
"data": {"name": "occ"},
"encoding": {
"x": {"field": "year", "type": "ordinal", "scale": {"type": "point", "padding": 0.4}, "axis": {"title": null, "labelAngle": 270, "labelFontSize": 10, "labelOverlap": false, "grid": true}},
"y": {"field": "value", "type": "quantitative", "scale": {"domain": [0, 51], "nice": false}, "axis": {"title": "Occurences (%)", "values": [0, 20, 40], "labelFontSize": 10, "titleFontSize": 10}},
"color": {"field": "type", "type": "nominal", "scale": {"domain": ["Continental", "Continental polluted", "Desert dust", "Maritime", "Mixed", "Strong events", "Clean"], "range": ["#c8143c", "#c844e4", "#ff8c00", "#7a22ee", "#000000", "#1f8f3f", "#f2b4f2"]}, "legend": {"title": null, "orient": "right", "offset": 12, "strokeColor": "#c8c8c8", "padding": 6, "labelFontSize": 11.5, "symbolType": "stroke", "symbolStrokeWidth": 2.5, "symbolSize": 600, "rowPadding": 2, "labelOffset": 9, "cornerRadius": 2, "encode": {"symbols": {"update": {"shape": {"signal": "datum.value === 'Clean' ? 'M-1.2,-0.45H1.2V0.45H-1.2Z' : 'stroke'"}, "strokeDash": {"signal": "datum.value === 'Clean' ? [2, 1] : [11, 2]"}, "strokeWidth": {"signal": "datum.value === 'Clean' ? 1 : 2.5"}}}}}}
},
"layer": [
{"transform": [{"filter": "datum.type === 'Clean'"}], "mark": {"type": "area", "fillOpacity": 0.75}},
{"transform": [{"filter": "datum.type !== 'Clean'"}], "mark": {"type": "line", "strokeWidth": 2.4, "strokeDash": [11, 2]}}
]
}
],
"spacing": 43, "bounds": "flush",
"resolve": {"scale": {"color": "independent"}}
}
],
"spacing": 0, "bounds": "flush",
"resolve": {"scale": {"color": "independent", "strokeDash": "independent"}},
"config": {
"font": "DejaVu Sans",
"view": {"stroke": "#9a9a9a"},
"axis": {"domainColor": "#666666", "tickColor": "#666666", "tickSize": 3.5, "gridColor": "#dedede", "labelColor": "#222222", "titleColor": "#222222", "titleFontWeight": "normal", "labelPadding": 2, "titlePadding": 4},
"legend": {"labelColor": "#222222", "titleFontWeight": "normal"},
"title": {"fontWeight": "normal", "color": "#222222", "frame": "group"}
}
}
